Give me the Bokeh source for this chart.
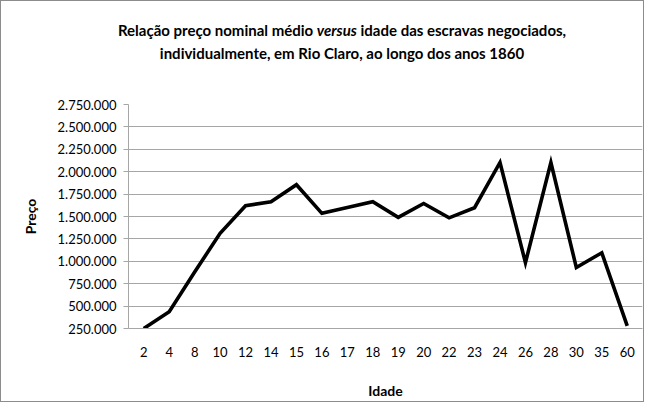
from bokeh.plotting import figure
from bokeh.models import FactorRange, Range1d, FixedTicker, Div
from bokeh.layouts import column
from bokeh.embed import file_html
from bokeh.resources import INLINE

idades = ["2", "4", "8", "10", "12", "14", "15", "16", "17", "18", "19", "20",
          "22", "23", "24", "26", "28", "30", "35", "60"]
precos = [250000, 437000, 880000, 1313000, 1620000, 1665000, 1855000, 1535000,
          1600000, 1665000, 1490000, 1645000, 1485000, 1598000, 2103000, 985000,
          2103000, 930000, 1095000, 280000]
y_ticks = [250000, 500000, 750000, 1000000, 1250000, 1500000, 1750000,
           2000000, 2250000, 2500000, 2750000]
y_tick_labels = ["250.000", "500.000", "750.000", "1.000.000", "1.250.000",
                 "1.500.000", "1.750.000", "2.000.000", "2.250.000",
                 "2.500.000", "2.750.000"]
title_1a = "Relação preço nominal médio"
title_1b = "versus"
title_1c = "idade das escravas negociados,"
title_2 = "individualmente, em Rio Claro, ao longo dos anos 1860"

FONT = "Lato"
GRID = "#a6a6a6"
W = 642
TITLE_H = 70
FIG_H = 330

title_html = (
    f'<div style="width:{W}px;text-align:center;position:relative;left:20px;'
    f'font-family:{FONT};font-weight:bold;font-size:15px;line-height:23px;'
    f'padding-top:18px;color:black;">'
    f'{title_1a} <i>{title_1b}</i> {title_1c}<br>{title_2}</div>'
)
title_div = Div(text=title_html, width=W, height=TITLE_H,
                styles={"margin": "0", "padding": "0"})

p = figure(width=W, height=FIG_H, output_backend="svg", toolbar_location=None,
           x_range=FactorRange(*idades, range_padding=0.01),
           y_range=Range1d(250000, 2750000),
           min_border_left=127, min_border_right=1,
           min_border_top=33, min_border_bottom=68)
p.outline_line_color = None
p.background_fill_color = "white"

p.line(x=idades, y=precos, line_color="black", line_width=3.6,
       line_join="miter")

p.xgrid.grid_line_color = None
p.ygrid.grid_line_color = GRID
p.yaxis.ticker = FixedTicker(ticks=y_ticks)
p.yaxis.major_label_overrides = {t: l for t, l in zip(y_ticks, y_tick_labels)}
p.yaxis.axis_line_color = GRID
p.yaxis.major_tick_line_color = GRID
p.yaxis.major_tick_out = 5
p.yaxis.major_tick_in = 0
p.yaxis.minor_tick_line_color = None
p.yaxis.major_label_standoff = 7
p.yaxis.major_label_text_font = FONT
p.yaxis.major_label_text_font_size = "13px"
p.yaxis.major_label_text_color = "black"
p.yaxis.axis_label = "Preço"
p.yaxis.axis_label_text_font = FONT
p.yaxis.axis_label_text_font_style = "bold"
p.yaxis.axis_label_text_font_size = "14px"
p.yaxis.axis_label_text_color = "black"
p.yaxis.axis_label_standoff = 16

p.xaxis.axis_line_color = GRID
p.xaxis.major_tick_line_color = None
p.xaxis.minor_tick_line_color = None
p.xaxis.major_label_standoff = 12
p.xaxis.major_label_text_font = FONT
p.xaxis.major_label_text_font_size = "13px"
p.xaxis.major_label_text_color = "black"
p.xaxis.axis_label = "Idade"
p.xaxis.axis_label_text_font = FONT
p.xaxis.axis_label_text_font_style = "bold"
p.xaxis.axis_label_text_font_size = "14px"
p.xaxis.axis_label_text_color = "black"
p.xaxis.axis_label_standoff = 22

layout = column(title_div, p, spacing=0,
                styles={"border": "1px solid #8c8c8c"})

open("out.html", "w").write(file_html(layout, INLINE))
